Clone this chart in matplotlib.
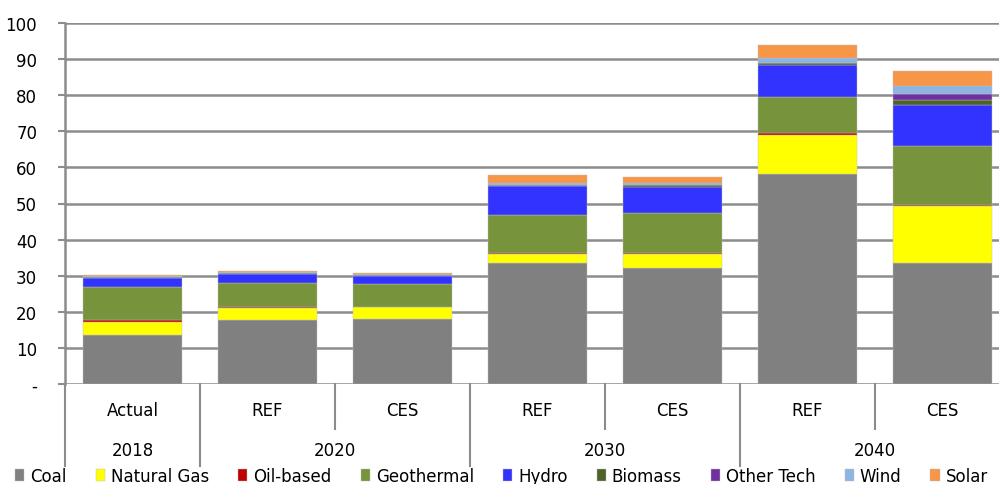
import matplotlib
matplotlib.use("Agg")
import matplotlib.pyplot as plt
import numpy as np

# categories (scenario / year)
scenarios = ["Actual", "REF", "CES", "REF", "CES", "REF", "CES"]
years = ["2018", "2020", "2030", "2040"]
year_spans = [(0, 1), (1, 3), (3, 5), (5, 7)]

# generation by technology, stacked bottom to top
coal = [13.6, 17.8, 18.0, 33.5, 32.0, 58.1, 33.4]
natural_gas = [3.5, 3.3, 3.2, 2.4, 4.0, 11.0, 16.0]
oil_based = [0.7, 0.2, 0.2, 0.3, 0.3, 0.3, 0.3]
geothermal = [9.2, 6.7, 6.2, 10.6, 11.2, 10.1, 16.3]
hydro = [2.3, 2.4, 2.4, 8.0, 7.1, 9.0, 11.3]
biomass = [0.3, 0.3, 0.2, 0.4, 0.4, 0.4, 1.3]
other_tech = [0.0, 0.0, 0.0, 0.0, 0.0, 0.0, 1.7]
wind = [0.2, 0.2, 0.2, 0.6, 0.7, 1.3, 2.2]
solar = [0.3, 0.4, 0.4, 2.1, 1.6, 3.7, 4.1]

series = [
    ("Coal", coal, "#808080"),
    ("Natural Gas", natural_gas, "#FFFF00"),
    ("Oil-based", oil_based, "#C00000"),
    ("Geothermal", geothermal, "#77933C"),
    ("Hydro", hydro, "#3333FF"),
    ("Biomass", biomass, "#4F6228"),
    ("Other Tech", other_tech, "#7030A0"),
    ("Wind", wind, "#8EB4E3"),
    ("Solar", solar, "#F79646"),
]

plt.rcParams['font.family'] = ['DejaVu Sans']

fig = plt.figure(figsize=(9.99, 4.85), dpi=100)
ax = fig.add_axes([65 / 999, 1 - 385 / 485, 945 / 999, 361 / 485])

x = np.arange(len(scenarios))
bottom = np.zeros(len(scenarios))
handles = []
for name, vals, col in series:
    vals = np.array(vals)
    b = ax.bar(x, vals, width=0.74, bottom=bottom, color=col,
               edgecolor="#BFBFBF", linewidth=0.3, label=name, zorder=3)
    handles.append(b)
    bottom += vals

ax.set_xlim(-0.5, len(scenarios) - 0.5)
ax.set_ylim(0, 100)
ax.set_yticks(np.arange(0, 101, 10))
ax.set_yticklabels(["-"] + [str(v) for v in range(10, 101, 10)], fontsize=12)
ax.yaxis.grid(True, color="#8C8C8C", linewidth=1.8, zorder=0)
ax.set_axisbelow(True)
for s in ["top", "right", "bottom"]:
    ax.spines[s].set_visible(False)
ax.spines["left"].set_color("#8C8C8C")
ax.spines["left"].set_linewidth(1.8)
ax.tick_params(axis="y", length=5, color="#8C8C8C", width=1.5, pad=15)
ax.set_xticks([])

# multi-level category axis
trans = ax.get_xaxis_transform()
for i, lab in enumerate(scenarios):
    ax.text(i, -0.072, lab, transform=trans, ha="center", va="center", fontsize=12)
for yr, (a, b) in zip(years, year_spans):
    ax.text((a + b - 1) / 2, -0.183, yr, transform=trans, ha="center", va="center", fontsize=12)
    ax.plot([a - 0.5, a - 0.5], [0, -0.227], transform=trans, color="#8C8C8C",
            linewidth=1.5, clip_on=False)
    for k in range(a + 1, b):
        ax.plot([k - 0.5, k - 0.5], [0, -0.125], transform=trans, color="#8C8C8C",
                linewidth=1.5, clip_on=False)
ax.plot([len(scenarios) - 0.5] * 2, [0, -0.227], transform=trans, color="#8C8C8C",
        linewidth=1.5, clip_on=False)

fig.legend(handles=handles, labels=[s[0] for s in series], loc="center",
           bbox_to_anchor=(0.502, 1 - 477 / 485), ncol=9, frameon=False,
           fontsize=12, handlelength=0.55, handleheight=0.7, handletextpad=0.35,
           columnspacing=1.75, borderaxespad=0, borderpad=0)

fig.savefig("out.png", dpi=100)
